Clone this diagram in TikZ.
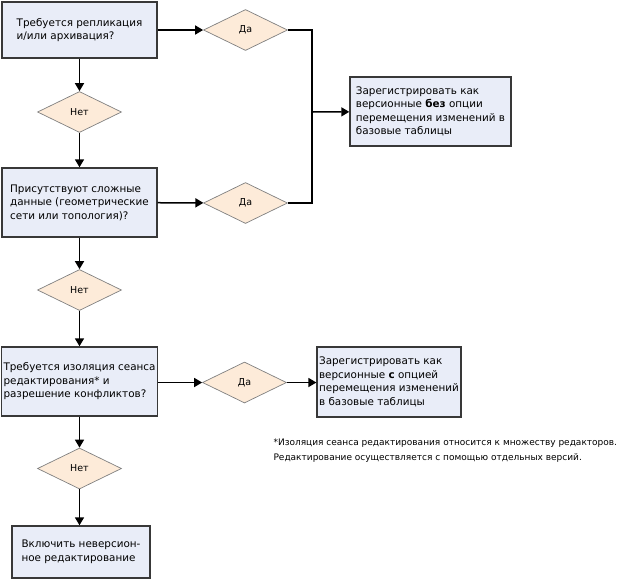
\documentclass[tikz,border=0pt]{standalone}
\usepackage{fontspec}
\setmainfont{DejaVu Sans}
\usetikzlibrary{arrows.meta,shapes.geometric}
\definecolor{boxfill}{HTML}{E9EDF8}
\definecolor{decfill}{HTML}{FDEBD9}
\tikzset{
  stepbox/.style={rectangle, draw=black!78, line width=1.4pt, fill=boxfill,
    align=left, inner sep=2pt, font=\fontsize{10.4}{13.5}\selectfont},
  decision/.style={diamond, draw=black!50, line width=0.7pt, fill=decfill,
    inner sep=0pt, minimum width=84pt, minimum height=41pt,
    font=\fontsize{9.5}{11}\selectfont},
  flow/.style={line width=1.5pt, -{Triangle[length=8pt,width=9pt]}}
}
\begin{document}
\begin{tikzpicture}[x=1pt,y=-1pt]
  \useasboundingbox (0,0) rectangle (639,579);
  \node[stepbox, minimum width=155pt, minimum height=56pt] (repl) at (79.5,30)
    {Требуется репликация\\и/или архивация?};
  \node[decision] (no1) at (79.5,112) {Нет};
  \node[stepbox, minimum width=155pt, minimum height=69pt] (complex) at (79.5,202.5)
    {Присутствуют сложные\\данные (геометрические\\сети или топология)?};
  \node[decision] (no2) at (79.5,290) {Нет};
  \node[stepbox, minimum width=155pt, minimum height=69pt] (isol) at (79.5,381.5)
    {Требуется изоляция сеанса\\редактирования* и\\разрешение конфликтов?};
  \node[decision] (no3) at (79.5,468.5) {Нет};
  \node[stepbox, minimum width=138pt, minimum height=52pt] (nonver) at (81,552)
    {Включить неверсион-\\ное редактирование};
  \node[decision] (yes1) at (245.5,30) {Да};
  \node[decision] (yes2) at (245.5,203) {Да};
  \node[decision] (yes3) at (244.5,382.5) {Да};
  \node[stepbox, minimum width=161pt, minimum height=69pt] (regnomove) at (430.5,111.5)
    {Зарегистрировать как\\версионные \textbf{без} опции\\перемещения изменений в\\базовые таблицы};
  \node[stepbox, minimum width=140pt, minimum height=70pt] (regmove) at (389,382)
    {Зарегистрировать как\\версионные \textbf{с} опцией\\перемещения изменений\\в базовые таблицы};
  \coordinate (join) at (312,112);
  \node[anchor=west, align=left, font=\fontsize{9}{15}\selectfont] (note) at (270,451)
    {*Изоляция сеанса редактирования относится к множеству редакторов.\\Редактирование осуществляется с помощью отдельных версий.};
  \begin{scope}[flow]
    \draw (repl) to (no1);
    \draw (no1) to (complex);
    \draw (complex) to (no2);
    \draw (no2) to (isol);
    \draw (isol) to (no3);
    \draw (no3) to (no3 |- nonver.north);
    \draw (repl) to (yes1);
    \draw (complex) to (yes2);
    \draw (isol.east |- yes3) to (yes3);
    \draw (yes3) to (regmove.west |- yes3);
    \draw (join) to (regnomove);
  \end{scope}
  \draw[line width=1.5pt] (yes1.east) -| (join);
  \draw[line width=1.5pt] (yes2.east) -| (join);
\end{tikzpicture}
\end{document}
